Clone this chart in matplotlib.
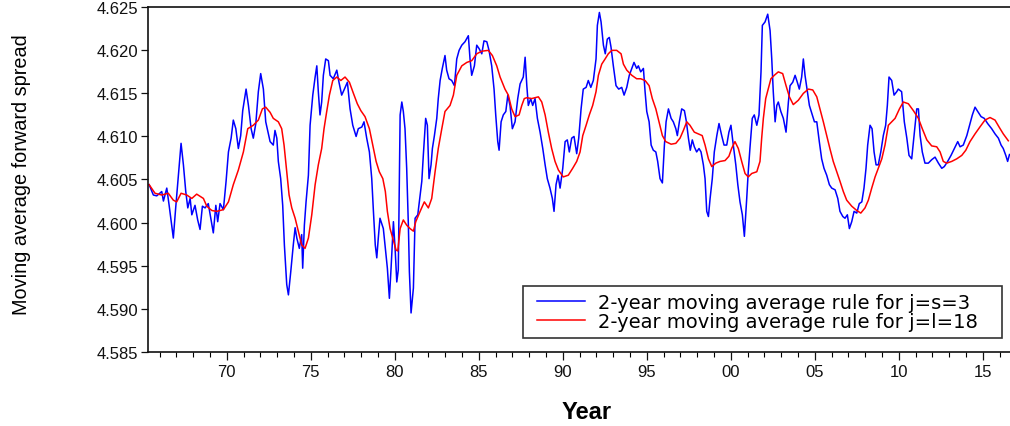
import matplotlib
matplotlib.use("Agg")
import matplotlib.pyplot as plt
from matplotlib.ticker import MultipleLocator, FixedLocator, FormatStrFormatter
from matplotlib.legend_handler import HandlerLine2D

# 2-year moving average of the forward spread, short rule (j=s=3)
blue_years = [
    1965.38, 1965.63, 1965.83, 1966.13, 1966.23, 1966.43, 1966.57, 1966.82, 1966.96, 1967.12,
    1967.28, 1967.42, 1967.56, 1967.68, 1967.82, 1967.92, 1968.11, 1968.27, 1968.41, 1968.55,
    1968.71, 1968.90, 1969.07, 1969.20, 1969.35, 1969.46, 1969.60, 1969.80, 1969.96, 1970.10,
    1970.26, 1970.39, 1970.54, 1970.69, 1970.83, 1970.95, 1971.15, 1971.29, 1971.45, 1971.58,
    1971.73, 1971.88, 1972.02, 1972.18, 1972.32, 1972.58, 1972.77, 1972.87, 1972.98, 1973.07,
    1973.21, 1973.33, 1973.43, 1973.57, 1973.67, 1973.81, 1973.96, 1974.07, 1974.17, 1974.32,
    1974.46, 1974.52, 1974.62, 1974.72, 1974.86, 1974.96, 1975.12, 1975.26, 1975.36, 1975.45,
    1975.55, 1975.65, 1975.75, 1975.89, 1976.05, 1976.15, 1976.34, 1976.55, 1976.68, 1976.84,
    1976.98, 1977.18, 1977.34, 1977.50, 1977.70, 1977.83, 1978.04, 1978.17, 1978.33, 1978.49,
    1978.63, 1978.73, 1978.84, 1978.93, 1979.02, 1979.12, 1979.32, 1979.42, 1979.56, 1979.68,
    1979.78, 1979.92, 1980.02, 1980.12, 1980.21, 1980.32, 1980.42, 1980.51, 1980.61, 1980.71,
    1980.81, 1980.87, 1980.97, 1981.11, 1981.21, 1981.37, 1981.51, 1981.61, 1981.70, 1981.84,
    1981.94, 1982.04, 1982.16, 1982.24, 1982.36, 1982.50, 1982.59, 1982.70, 1982.83, 1982.99,
    1983.09, 1983.23, 1983.39, 1983.55, 1983.69, 1983.83, 1983.99, 1984.18, 1984.38, 1984.48,
    1984.58, 1984.74, 1984.88, 1985.02, 1985.18, 1985.31, 1985.48, 1985.61, 1985.77, 1985.91,
    1986.01, 1986.13, 1986.21, 1986.33, 1986.46, 1986.61, 1986.73, 1986.86, 1987.00, 1987.16,
    1987.32, 1987.46, 1987.65, 1987.76, 1987.86, 1987.95, 1988.09, 1988.21, 1988.35, 1988.49,
    1988.65, 1988.81, 1988.95, 1989.08, 1989.24, 1989.38, 1989.48, 1989.60, 1989.72, 1989.84,
    1990.00, 1990.14, 1990.27, 1990.39, 1990.53, 1990.67, 1990.83, 1990.95, 1991.09, 1991.22,
    1991.39, 1991.52, 1991.67, 1991.82, 1991.98, 1992.06, 1992.18, 1992.28, 1992.42, 1992.53,
    1992.65, 1992.77, 1992.87, 1993.01, 1993.17, 1993.33, 1993.51, 1993.65, 1993.81, 1993.96,
    1994.11, 1994.24, 1994.40, 1994.50, 1994.64, 1994.80, 1994.90, 1995.00, 1995.14, 1995.26,
    1995.39, 1995.54, 1995.65, 1995.79, 1995.93, 1996.05, 1996.15, 1996.29, 1996.45, 1996.58,
    1996.73, 1996.82, 1996.94, 1997.08, 1997.24, 1997.36, 1997.48, 1997.59, 1997.71, 1997.83,
    1997.97, 1998.11, 1998.23, 1998.37, 1998.47, 1998.57, 1998.67, 1998.77, 1998.90, 1999.02,
    1999.17, 1999.30, 1999.46, 1999.60, 1999.76, 1999.89, 2000.01, 2000.15, 2000.30, 2000.42,
    2000.55, 2000.69, 2000.81, 2000.95, 2001.04, 2001.14, 2001.28, 2001.40, 2001.55, 2001.68,
    2001.80, 2001.88, 2002.04, 2002.20, 2002.34, 2002.44, 2002.53, 2002.64, 2002.74, 2002.83,
    2002.98, 2003.13, 2003.29, 2003.43, 2003.53, 2003.69, 2003.83, 2003.96, 2004.08, 2004.22,
    2004.32, 2004.42, 2004.56, 2004.68, 2004.82, 2004.98, 2005.12, 2005.27, 2005.41, 2005.55,
    2005.71, 2005.87, 2006.01, 2006.21, 2006.37, 2006.50, 2006.67, 2006.80, 2006.94, 2007.06,
    2007.20, 2007.34, 2007.50, 2007.65, 2007.80, 2007.93, 2008.05, 2008.15, 2008.29, 2008.41,
    2008.53, 2008.65, 2008.78, 2008.93, 2009.08, 2009.22, 2009.32, 2009.42, 2009.58, 2009.72,
    2009.88, 2009.97, 2010.17, 2010.33, 2010.48, 2010.61, 2010.77, 2010.93, 2011.07, 2011.17,
    2011.27, 2011.40, 2011.56, 2011.76, 2011.96, 2012.16, 2012.36, 2012.56, 2012.71, 2012.91,
    2013.11, 2013.31, 2013.51, 2013.65, 2013.84, 2014.05, 2014.24, 2014.38, 2014.54, 2014.70,
    2014.90, 2015.09, 2015.29, 2015.53, 2015.73, 2015.93, 2016.09, 2016.22, 2016.37, 2016.48,
    2016.59,
]
blue_vals = [
    4.6044, 4.6032, 4.6031, 4.6036, 4.6025, 4.6040, 4.6020, 4.5982, 4.6017, 4.6055,
    4.6092, 4.6067, 4.6036, 4.6017, 4.6028, 4.6009, 4.6020, 4.6003, 4.5992, 4.6019,
    4.6017, 4.6022, 4.6003, 4.5988, 4.6020, 4.6001, 4.6022, 4.6015, 4.6048, 4.6082,
    4.6098, 4.6119, 4.6109, 4.6086, 4.6101, 4.6130, 4.6155, 4.6136, 4.6109, 4.6098,
    4.6115, 4.6152, 4.6173, 4.6155, 4.6117, 4.6094, 4.6090, 4.6107, 4.6098, 4.6071,
    4.6051, 4.6020, 4.5974, 4.5928, 4.5916, 4.5943, 4.5974, 4.5994, 4.5982, 4.5970,
    4.5986, 4.5947, 4.5997, 4.6024, 4.6055, 4.6113, 4.6148, 4.6169, 4.6182, 4.6152,
    4.6125, 4.6140, 4.6171, 4.6190, 4.6188, 4.6171, 4.6167, 4.6177, 4.6163, 4.6148,
    4.6154, 4.6163, 4.6132, 4.6113, 4.6100, 4.6109, 4.6111, 4.6117, 4.6098, 4.6082,
    4.6051, 4.6013, 4.5974, 4.5959, 4.5982, 4.6005, 4.5993, 4.5974, 4.5947, 4.5912,
    4.5947, 4.6001, 4.5970, 4.5931, 4.5945, 4.6125, 4.6140, 4.6129, 4.6109, 4.6063,
    4.5997, 4.5943, 4.5895, 4.5924, 4.6005, 4.6009, 4.6032, 4.6048, 4.6078, 4.6121,
    4.6113, 4.6051, 4.6067, 4.6086, 4.6101, 4.6121, 4.6144, 4.6165, 4.6179, 4.6194,
    4.6177, 4.6167, 4.6165, 4.6159, 4.6190, 4.6200, 4.6206, 4.6210, 4.6217, 4.6190,
    4.6171, 4.6182, 4.6206, 4.6202, 4.6196, 4.6211, 4.6210, 4.6200, 4.6182, 4.6155,
    4.6125, 4.6094, 4.6084, 4.6117, 4.6125, 4.6129, 4.6148, 4.6136, 4.6109, 4.6117,
    4.6144, 4.6161, 4.6169, 4.6192, 4.6159, 4.6136, 4.6144, 4.6136, 4.6144, 4.6121,
    4.6105, 4.6086, 4.6067, 4.6051, 4.6040, 4.6028, 4.6013, 4.6044, 4.6055, 4.6040,
    4.6063, 4.6094, 4.6096, 4.6082, 4.6098, 4.6100, 4.6080, 4.6098, 4.6132, 4.6155,
    4.6157, 4.6165, 4.6157, 4.6165, 4.6190, 4.6229, 4.6244, 4.6233, 4.6206, 4.6196,
    4.6213, 4.6215, 4.6204, 4.6182, 4.6159, 4.6155, 4.6157, 4.6148, 4.6157, 4.6171,
    4.6179, 4.6186, 4.6179, 4.6182, 4.6175, 4.6179, 4.6152, 4.6129, 4.6117, 4.6090,
    4.6084, 4.6082, 4.6071, 4.6051, 4.6046, 4.6090, 4.6117, 4.6132, 4.6121, 4.6117,
    4.6109, 4.6101, 4.6117, 4.6132, 4.6130, 4.6117, 4.6098, 4.6084, 4.6096, 4.6088,
    4.6082, 4.6086, 4.6082, 4.6067, 4.6051, 4.6013, 4.6007, 4.6028, 4.6051, 4.6082,
    4.6101, 4.6115, 4.6101, 4.6090, 4.6090, 4.6105, 4.6113, 4.6090, 4.6067, 4.6044,
    4.6024, 4.6009, 4.5984, 4.6028, 4.6059, 4.6086, 4.6121, 4.6125, 4.6113, 4.6125,
    4.6175, 4.6229, 4.6233, 4.6242, 4.6223, 4.6190, 4.6152, 4.6117, 4.6136, 4.6140,
    4.6129, 4.6121, 4.6105, 4.6140, 4.6159, 4.6163, 4.6171, 4.6163, 4.6155, 4.6169,
    4.6190, 4.6171, 4.6152, 4.6136, 4.6127, 4.6117, 4.6117, 4.6094, 4.6074, 4.6063,
    4.6055, 4.6044, 4.6040, 4.6038, 4.6028, 4.6013, 4.6007, 4.6005, 4.6009, 4.5993,
    4.6001, 4.6013, 4.6011, 4.6022, 4.6024, 4.6040, 4.6063, 4.6090, 4.6113, 4.6109,
    4.6082, 4.6067, 4.6067, 4.6082, 4.6101, 4.6113, 4.6136, 4.6169, 4.6165, 4.6148,
    4.6152, 4.6155, 4.6152, 4.6117, 4.6098, 4.6078, 4.6074, 4.6105, 4.6132, 4.6132,
    4.6101, 4.6082, 4.6069, 4.6069, 4.6073, 4.6076, 4.6069, 4.6063, 4.6065, 4.6071,
    4.6078, 4.6086, 4.6094, 4.6088, 4.6090, 4.6101, 4.6115, 4.6125, 4.6134, 4.6129,
    4.6123, 4.6121, 4.6115, 4.6109, 4.6103, 4.6098, 4.6090, 4.6086, 4.6078, 4.6071,
    4.6079,
]

# 2-year moving average of the forward spread, long rule (j=l=18)
red_years = [
    1965.38, 1965.73, 1966.13, 1966.52, 1966.82, 1967.02, 1967.28, 1967.62, 1967.92, 1968.21,
    1968.61, 1968.81, 1969.11, 1969.40, 1969.80, 1970.10, 1970.39, 1970.69, 1970.99, 1971.25,
    1971.58, 1971.88, 1972.12, 1972.32, 1972.58, 1972.77, 1973.07, 1973.27, 1973.41, 1973.57,
    1973.71, 1973.87, 1974.07, 1974.26, 1974.46, 1974.66, 1974.86, 1975.06, 1975.26, 1975.45,
    1975.65, 1975.79, 1975.95, 1976.11, 1976.31, 1976.55, 1976.79, 1977.04, 1977.30, 1977.54,
    1977.77, 1977.98, 1978.23, 1978.49, 1978.69, 1978.89, 1979.08, 1979.29, 1979.44, 1979.56,
    1979.72, 1979.88, 1980.08, 1980.18, 1980.32, 1980.51, 1980.71, 1980.91, 1981.11, 1981.25,
    1981.51, 1981.76, 1982.00, 1982.20, 1982.40, 1982.59, 1982.80, 1982.99, 1983.29, 1983.49,
    1983.69, 1983.99, 1984.29, 1984.58, 1984.88, 1985.18, 1985.57, 1985.81, 1986.07, 1986.27,
    1986.56, 1986.76, 1986.96, 1987.16, 1987.40, 1987.56, 1987.71, 1987.86, 1988.15, 1988.55,
    1988.75, 1988.95, 1989.14, 1989.34, 1989.54, 1989.74, 1990.03, 1990.33, 1990.59, 1990.83,
    1991.03, 1991.19, 1991.39, 1991.58, 1991.78, 1991.98, 1992.12, 1992.32, 1992.52, 1992.71,
    1992.92, 1993.21, 1993.47, 1993.61, 1993.81, 1994.11, 1994.40, 1994.64, 1994.90, 1995.14,
    1995.33, 1995.54, 1995.73, 1995.93, 1996.13, 1996.45, 1996.73, 1996.98, 1997.18, 1997.38,
    1997.57, 1997.83, 1998.07, 1998.30, 1998.47, 1998.67, 1998.87, 1999.11, 1999.36, 1999.66,
    1999.89, 2000.05, 2000.25, 2000.45, 2000.65, 2000.85, 2001.04, 2001.25, 2001.55, 2001.74,
    2001.84, 2001.94, 2002.08, 2002.23, 2002.39, 2002.59, 2002.83, 2003.09, 2003.29, 2003.49,
    2003.72, 2004.02, 2004.32, 2004.62, 2004.88, 2005.12, 2005.31, 2005.51, 2005.71, 2005.90,
    2006.10, 2006.31, 2006.50, 2006.70, 2006.90, 2007.20, 2007.50, 2007.74, 2007.99, 2008.19,
    2008.39, 2008.59, 2008.78, 2008.99, 2009.18, 2009.38, 2009.58, 2009.78, 2010.04, 2010.27,
    2010.57, 2010.87, 2011.17, 2011.40, 2011.67, 2011.96, 2012.26, 2012.46, 2012.65, 2012.85,
    2013.15, 2013.45, 2013.75, 2013.99, 2014.24, 2014.54, 2014.83, 2015.13, 2015.43, 2015.73,
    2015.97, 2016.22, 2016.52,
]
red_vals = [
    4.6044, 4.6034, 4.6032, 4.6034, 4.6026, 4.6024, 4.6034, 4.6032, 4.6028, 4.6033,
    4.6028, 4.6019, 4.6014, 4.6013, 4.6015, 4.6024, 4.6044, 4.6061, 4.6082, 4.6109,
    4.6113, 4.6119, 4.6132, 4.6134, 4.6128, 4.6121, 4.6117, 4.6109, 4.6090, 4.6059,
    4.6032, 4.6017, 4.6005, 4.5990, 4.5974, 4.5970, 4.5982, 4.6009, 4.6044, 4.6067,
    4.6086, 4.6109, 4.6129, 4.6148, 4.6165, 4.6169, 4.6165, 4.6169, 4.6163, 4.6150,
    4.6138, 4.6130, 4.6123, 4.6109, 4.6090, 4.6071, 4.6059, 4.6051, 4.6036, 4.6013,
    4.5993, 4.5982, 4.5968, 4.5967, 4.5993, 4.6003, 4.5997, 4.5993, 4.5990, 4.6001,
    4.6013, 4.6024, 4.6017, 4.6028, 4.6059, 4.6086, 4.6109, 4.6129, 4.6136, 4.6148,
    4.6171, 4.6182, 4.6186, 4.6188, 4.6196, 4.6199, 4.6200, 4.6194, 4.6182, 4.6169,
    4.6155, 4.6148, 4.6132, 4.6123, 4.6125, 4.6136, 4.6144, 4.6145, 4.6144, 4.6146,
    4.6140, 4.6125, 4.6105, 4.6086, 4.6071, 4.6061, 4.6053, 4.6055, 4.6063, 4.6071,
    4.6082, 4.6101, 4.6113, 4.6125, 4.6136, 4.6152, 4.6171, 4.6184, 4.6190, 4.6196,
    4.6200, 4.6200, 4.6196, 4.6184, 4.6177, 4.6171, 4.6167, 4.6167, 4.6165, 4.6159,
    4.6144, 4.6132, 4.6117, 4.6101, 4.6094, 4.6091, 4.6092, 4.6098, 4.6107, 4.6117,
    4.6113, 4.6105, 4.6103, 4.6101, 4.6090, 4.6074, 4.6065, 4.6069, 4.6071, 4.6072,
    4.6077, 4.6086, 4.6094, 4.6086, 4.6071, 4.6057, 4.6053, 4.6057, 4.6059, 4.6071,
    4.6098, 4.6121, 4.6144, 4.6155, 4.6167, 4.6171, 4.6175, 4.6173, 4.6159, 4.6146,
    4.6137, 4.6142, 4.6150, 4.6155, 4.6154, 4.6146, 4.6132, 4.6117, 4.6101, 4.6086,
    4.6071, 4.6059, 4.6048, 4.6036, 4.6026, 4.6019, 4.6014, 4.6011, 4.6017, 4.6026,
    4.6040, 4.6053, 4.6063, 4.6074, 4.6090, 4.6113, 4.6117, 4.6121, 4.6132, 4.6140,
    4.6138, 4.6130, 4.6121, 4.6109, 4.6096, 4.6089, 4.6088, 4.6082, 4.6071, 4.6069,
    4.6071, 4.6074, 4.6078, 4.6084, 4.6094, 4.6103, 4.6111, 4.6119, 4.6122, 4.6119,
    4.6111, 4.6103, 4.6095,
]

label_short = '2-year moving average rule for j=s=3'
label_long = '2-year moving average rule for j=l=18'
major_years = [1970, 1975, 1980, 1985, 1990, 1995, 2000, 2005, 2010, 2015]
major_labels = ['70', '75', '80', '85', '90', '95', '00', '05', '10', '15']

plt.rcParams['font.family'] = ['Liberation Sans', 'DejaVu Sans']

fig = plt.figure(figsize=(10.10, 4.27), dpi=100)
W, H = 1010.0, 427.0
ax = fig.add_axes([148.3 / W, (H - 352.7) / H, (1012 - 148.3) / W, (352.7 - 8.3) / H])

ax.plot(blue_years, blue_vals, color='#0000ff', lw=1.1, label=label_short)
ax.plot(red_years, red_vals, color='#ff0000', lw=1.1, label=label_long)

ax.set_xlim(1965.33, 2016.74)
ax.set_ylim(4.585, 4.625)

ax.xaxis.set_major_locator(FixedLocator(major_years))
ax.set_xticklabels(major_labels)
ax.xaxis.set_minor_locator(MultipleLocator(1))
ax.yaxis.set_major_locator(MultipleLocator(0.005))
ax.yaxis.set_major_formatter(FormatStrFormatter('%.3f'))

ax.tick_params(axis='both', which='major', labelsize=12, colors='#111111',
               direction='out', width=0.9)
ax.tick_params(axis='x', which='major', length=6, pad=3)
ax.tick_params(axis='x', which='minor', length=3.5, width=0.8, direction='out')
ax.tick_params(axis='y', which='major', length=5, pad=2)
for sp in ax.spines.values():
    sp.set_linewidth(1.2)
    sp.set_color('#111111')

ax.set_ylabel('Moving average forward spread', fontsize=14.3)
ax.yaxis.set_label_coords(-0.1358, 0.516)
ax.set_xlabel('Year', fontsize=17, fontweight='bold')
ax.xaxis.set_label_coords(0.508, -0.139)

# legend box pinned to its place in the lower right of the plot area
leg_x0 = (523 - 148.3) / (1012 - 148.3)
leg_x1 = (1002 - 148.3) / (1012 - 148.3)
leg_y0 = (352.7 - 339) / 344.4
leg_y1 = (352.7 - 287) / 344.4
leg = ax.legend(loc='lower left', bbox_to_anchor=(leg_x0, leg_y0, leg_x1 - leg_x0, leg_y1 - leg_y0),
                mode='expand', borderaxespad=0, fancybox=False, framealpha=1,
                edgecolor='#333333', handlelength=2.84, handletextpad=0.67,
                labelspacing=0.0, borderpad=0.35,
                handler_map={plt.Line2D: HandlerLine2D(xpad=0.37)},
                prop={'family': 'DejaVu Sans', 'size': 14})
leg.get_frame().set_linewidth(1.2)

fig.savefig('out.png', dpi=100)
